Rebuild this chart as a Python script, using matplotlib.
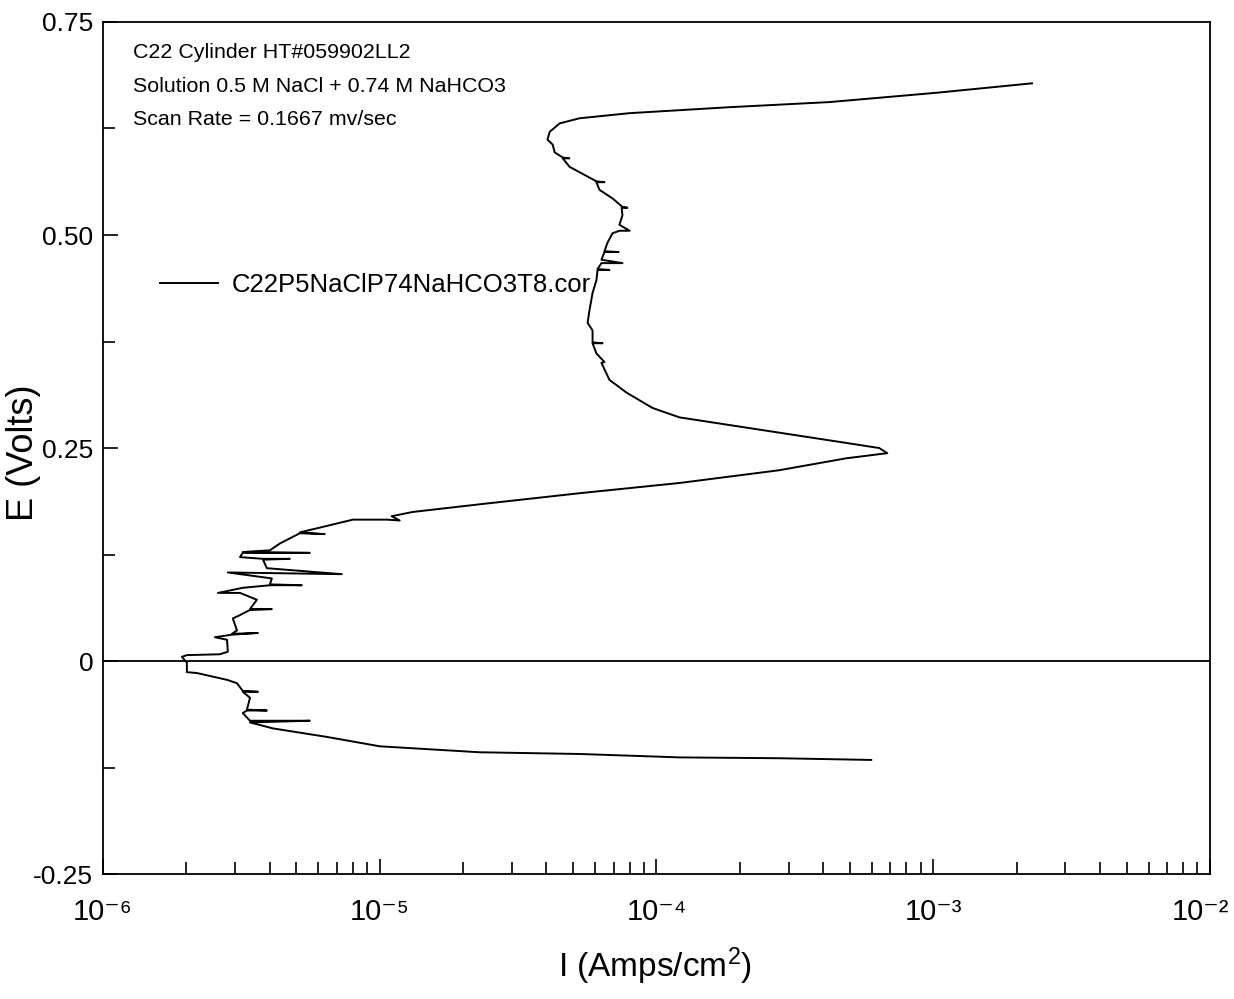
import numpy as np
import matplotlib
matplotlib.use("Agg")
import matplotlib.pyplot as plt
from matplotlib.ticker import LogLocator, FuncFormatter, MultipleLocator, NullFormatter
from matplotlib.transforms import ScaledTranslation

plt.rcParams["font.family"] = ["Liberation Sans", "DejaVu Sans"]
plt.rcParams["mathtext.fontset"] = "custom"
plt.rcParams["mathtext.rm"] = "Liberation Sans"
plt.rcParams["mathtext.it"] = "Liberation Sans:italic"

# Potentiodynamic scan, cathodic end first; current stored as log10(A/cm^2)
log_i = [
    -3.224, -3.556, -3.917, -4.278, -4.639, -5.000, -5.191, -5.386, -5.469,
    -5.253, -5.469, -5.495, -5.480, -5.408, -5.480, -5.469, -5.495, -5.440,
    -5.495, -5.516, -5.552, -5.661, -5.697, -5.697, -5.715, -5.697, -5.578,
    -5.549, -5.552, -5.596, -5.534, -5.440, -5.534, -5.516, -5.531, -5.505,
    -5.469, -5.390, -5.469, -5.444, -5.505, -5.585, -5.495, -5.397, -5.282,
    -5.397, -5.390, -5.549, -5.137, -5.408, -5.422, -5.325, -5.422, -5.505,
    -5.495, -5.253, -5.495, -5.397, -5.361, -5.289, -5.199, -5.289, -5.097,
    -4.975, -4.928, -4.957, -4.881, -4.639, -4.278, -3.917, -3.556, -3.314,
    -3.166, -3.195, -3.314, -3.556, -3.819, -3.917, -4.014, -4.108, -4.170,
    -4.199, -4.188, -4.217, -4.231, -4.195, -4.231, -4.231, -4.249, -4.242,
    -4.231, -4.217, -4.213, -4.170, -4.213, -4.199, -4.123, -4.199, -4.188,
    -4.137, -4.188, -4.177, -4.159, -4.134, -4.097, -4.134, -4.123, -4.126,
    -4.105, -4.123, -4.159, -4.206, -4.217, -4.188, -4.217, -4.314, -4.339,
    -4.315, -4.339, -4.368, -4.375, -4.394, -4.386, -4.350, -4.278, -4.097,
    -3.736, -3.375, -2.986, -2.643,
]
potential = [
    -0.116, -0.114, -0.113, -0.109, -0.107, -0.100, -0.089, -0.079, -0.072,
    -0.070, -0.070, -0.061, -0.058, -0.058, -0.057, -0.043, -0.036, -0.036,
    -0.035, -0.026, -0.022, -0.014, -0.013, -0.002, 0.005, 0.007, 0.008,
    0.011, 0.025, 0.028, 0.031, 0.033, 0.032, 0.036, 0.050, 0.054,
    0.060, 0.061, 0.061, 0.072, 0.080, 0.080, 0.086, 0.089, 0.089,
    0.090, 0.097, 0.104, 0.102, 0.109, 0.119, 0.120, 0.120, 0.122,
    0.127, 0.127, 0.128, 0.130, 0.138, 0.150, 0.149, 0.151, 0.166,
    0.166, 0.165, 0.170, 0.175, 0.184, 0.197, 0.209, 0.224, 0.238,
    0.244, 0.250, 0.256, 0.268, 0.281, 0.286, 0.297, 0.315, 0.330,
    0.350, 0.351, 0.361, 0.373, 0.373, 0.374, 0.388, 0.397, 0.412,
    0.432, 0.447, 0.459, 0.459, 0.460, 0.467, 0.467, 0.471, 0.480,
    0.480, 0.481, 0.491, 0.502, 0.505, 0.505, 0.512, 0.523, 0.532,
    0.532, 0.533, 0.543, 0.553, 0.562, 0.562, 0.563, 0.580, 0.590,
    0.590, 0.591, 0.597, 0.606, 0.612, 0.621, 0.631, 0.637, 0.643,
    0.650, 0.656, 0.667, 0.678,
]

note_lines = [
    "C22 Cylinder HT#059902LL2",
    "Solution 0.5 M NaCl + 0.74 M NaHCO3",
    "Scan Rate = 0.1667 mv/sec",
]
series_name = "C22P5NaClP74NaHCO3T8.cor"
y_ticks = [-0.25, 0, 0.25, 0.5, 0.75]
y_ticklabels = ["-0.25", "0", "0.25", "0.50", "0.75"]

SUPER = str.maketrans("-0123456789", "⁻⁰¹²³⁴⁵⁶⁷⁸⁹")


def decade_label(val, pos):
    exp = int(round(np.log10(val)))
    return "10" + str(exp).translate(SUPER)


current = 10.0 ** np.array(log_i)
e_volts = np.array(potential)

fig = plt.figure(figsize=(12.34, 9.99), dpi=100)
ax = fig.add_axes([0.0835, 0.125, 0.897, 0.853])

ax.plot(current, e_volts, color="black", lw=1.4, label=series_name)
ax.axhline(0, color="black", lw=1.3)

ax.set_xscale("log")
ax.set_xlim(1e-6, 1e-2)
ax.set_ylim(-0.25, 0.75)

ax.xaxis.set_major_locator(LogLocator(base=10, numticks=10))
ax.xaxis.set_major_formatter(FuncFormatter(decade_label))
ax.xaxis.set_minor_locator(LogLocator(base=10, subs=np.arange(2, 10), numticks=10))
ax.xaxis.set_minor_formatter(NullFormatter())
ax.yaxis.set_minor_locator(MultipleLocator(0.125))
ax.set_yticks(y_ticks)
ax.set_yticklabels(y_ticklabels)

ax.tick_params(which="both", direction="in", top=False, right=False)
ax.tick_params(which="major", length=11, width=1.2)
ax.tick_params(which="minor", length=8.5, width=1.2)
ax.tick_params(axis="x", which="major", pad=17, labelsize=21)
ax.tick_params(axis="y", which="major", pad=7, labelsize=19)
for sp in ax.spines.values():
    sp.set_linewidth(1.3)

ax.set_xlabel("I (Amps/cm$^2$)", fontsize=24)
ax.set_ylabel("E (Volts)", fontsize=26)
ax.xaxis.set_label_coords(0.499, -0.084)
ax.yaxis.set_label_coords(-0.056, 0.495)

ax.text(0.027, 0.975, "\n".join(note_lines), transform=ax.transAxes,
        fontsize=15.4, va="top", ha="left", linespacing=1.95)

ax.legend(loc="center left", bbox_to_anchor=(0.0515, 0.691), frameon=False,
          fontsize=18.5, handlelength=2.25, handletextpad=0.55,
          borderpad=0, borderaxespad=0)

# pull the 10^-2 label in slightly so it stays inside the figure
fig.canvas.draw()
for tick in ax.xaxis.get_major_ticks():
    if np.isclose(tick.get_loc(), 1e-2):
        lab = tick.label1
        lab.set_transform(lab.get_transform() + ScaledTranslation(-7 / 72, 0, fig.dpi_scale_trans))

fig.savefig("out.png", dpi=100)
